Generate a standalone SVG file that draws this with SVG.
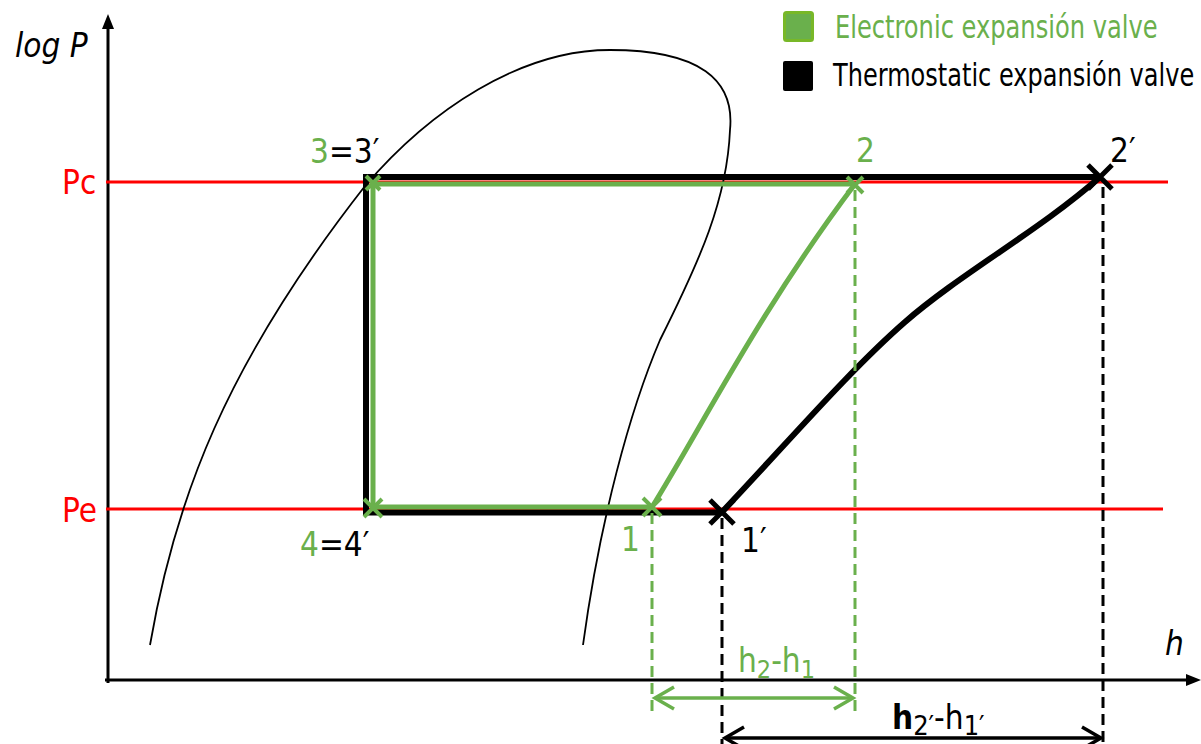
<svg xmlns="http://www.w3.org/2000/svg" width="1201" height="744" viewBox="0 0 1201 744">
<style>
text{font-family:"Liberation Sans Narrow","DejaVu Sans Condensed","Liberation Sans",sans-serif;}
.g{fill:#6ab04c}.k{fill:#000}.r{fill:#ff0000}
.lbl{font-size:33px}
.it{font-style:italic}
.red{stroke:#ff0000;stroke-width:3;fill:none}
.blk{stroke:#000;stroke-width:6;fill:none;stroke-linejoin:miter}
.grn{stroke:#6ab04c;stroke-width:5;fill:none}
.gd{stroke:#6ab04c;stroke-width:3;stroke-dasharray:11 6;fill:none}
.kd{stroke:#000;stroke-width:3;stroke-dasharray:11 6;fill:none}
.gx{stroke:#6ab04c;stroke-width:4;fill:none}
.kx{stroke:#000;stroke-width:5;fill:none}
</style>
<defs>
<marker id="chg" markerUnits="userSpaceOnUse" markerWidth="30" markerHeight="30" refX="0" refY="0" orient="auto-start-reverse" overflow="visible"><path d="M-19,-11 L0,0 L-19,11" fill="none" stroke="#6ab04c" stroke-width="3.5"/></marker>
<marker id="chk" markerUnits="userSpaceOnUse" markerWidth="30" markerHeight="30" refX="0" refY="0" orient="auto-start-reverse" overflow="visible"><path d="M-19,-11 L0,0 L-19,11" fill="none" stroke="#000" stroke-width="3.5"/></marker>
</defs>
<rect width="1201" height="744" fill="#fff"/>

<g id="axes">
<line x1="108" y1="683" x2="108" y2="26" stroke="#000" stroke-width="3"/>
<path d="M108,14 L102,29 L114,29 Z" fill="#000"/>
<line x1="105" y1="680" x2="1188" y2="680" stroke="#000" stroke-width="3"/>
<path d="M1201,680 L1186,674 L1186,686 Z" fill="#000"/>
<text x="15" y="57" class="lbl it k" font-size="32">log P</text>
<text x="1165" y="655" class="lbl it k" font-size="32">h</text>
</g>

<g id="pressure-lines">
<line x1="106" y1="182" x2="1168" y2="182" class="red"/>
<line x1="106" y1="509" x2="1163" y2="509" class="red"/>
<text x="62" y="194" class="lbl r">Pc</text>
<text x="62" y="522" class="lbl r">Pe</text>
</g>

<g id="saturation-curve">
<path d="M150,645 C175,500 225,365 365,186 C430,110 520,50 610,50 C700,50 735,80 730,130 C727,200 700,260 660,340 C630,410 600,520 583,645" fill="none" stroke="#000" stroke-width="1.8"/>
</g>

<g id="thermostatic-cycle">
<path d="M722,512.5 L366,512.5 L366,177 L1100,177" class="blk"/>
<path d="M722,512 C790,440 850,370 905,322 C960,274 1040,230 1100,177" class="blk" stroke-width="7"/>
</g>

<g id="electronic-cycle">
<path d="M652,507 L373,507 L373,184 L855,184" class="grn"/>
<path d="M652,507 C700,430 760,310 855,184" class="grn"/>
<path d="M366,176 L380,190 M380,176 L366,190" class="gx"/>
<path d="M364,499 L382,517 M382,499 L364,517" class="gx"/>
<path d="M643,498 L661,516 M661,498 L643,516" class="gx"/>
<path d="M847,177 L863,193 M863,177 L847,193" class="gx" stroke-width="2"/>
</g>

<g id="state-points">
<path d="M710,500 L734,524 M734,500 L710,524" class="kx"/>
<path d="M1088,165 L1112,189 M1112,165 L1088,189" class="kx"/>
<text x="310" y="163" class="lbl"><tspan class="g">3</tspan><tspan class="k">=3′</tspan></text>
<text x="856" y="162" class="lbl g">2</text>
<text x="1110" y="162" class="lbl k">2′</text>
<text x="300" y="556" class="lbl"><tspan class="g">4</tspan><tspan class="k">=4′</tspan></text>
<text x="621" y="551" class="lbl g">1</text>
<text x="741" y="552" class="lbl k">1′</text>
</g>

<g id="connectors">
<line x1="652" y1="513" x2="652" y2="712" class="gd"/>
<line x1="855" y1="190" x2="855" y2="712" class="gd"/>
<line x1="722" y1="518" x2="722" y2="744" class="kd"/>
<line x1="1103" y1="187" x2="1103" y2="744" class="kd"/>
<line x1="655" y1="698" x2="853" y2="698" stroke="#6ab04c" stroke-width="3.5" marker-start="url(#chg)" marker-end="url(#chg)"/>
<line x1="725" y1="738" x2="1101" y2="738" stroke="#000" stroke-width="3.5" marker-start="url(#chk)" marker-end="url(#chk)"/>
</g>

<g id="dimension-labels">
<text x="738" y="672" class="lbl g" font-size="34">h<tspan font-size="25" dy="6">2</tspan><tspan dy="-6">-h</tspan><tspan font-size="25" dy="6">1</tspan></text>
<text x="892" y="729" class="lbl k" font-size="37"><tspan font-weight="bold">h</tspan><tspan font-size="27" dy="6">2′</tspan><tspan dy="-6">-h</tspan><tspan font-size="27" dy="6">1′</tspan></text>
</g>

<g id="legend">
<rect x="784.5" y="12.5" width="28" height="28" rx="2" fill="#6ab04c" stroke="#78b828" stroke-width="3"/>
<text transform="translate(835,38) scale(0.84,1)" x="0" y="0" font-size="32" class="g" textLength="384" lengthAdjust="spacingAndGlyphs">Electronic expansión valve</text>
<rect x="783" y="61" width="30" height="30" rx="2" fill="#000"/>
<text transform="translate(833,86) scale(0.84,1)" x="0" y="0" font-size="32" class="k" textLength="430" lengthAdjust="spacingAndGlyphs">Thermostatic expansión valve</text>
</g>
</svg>
